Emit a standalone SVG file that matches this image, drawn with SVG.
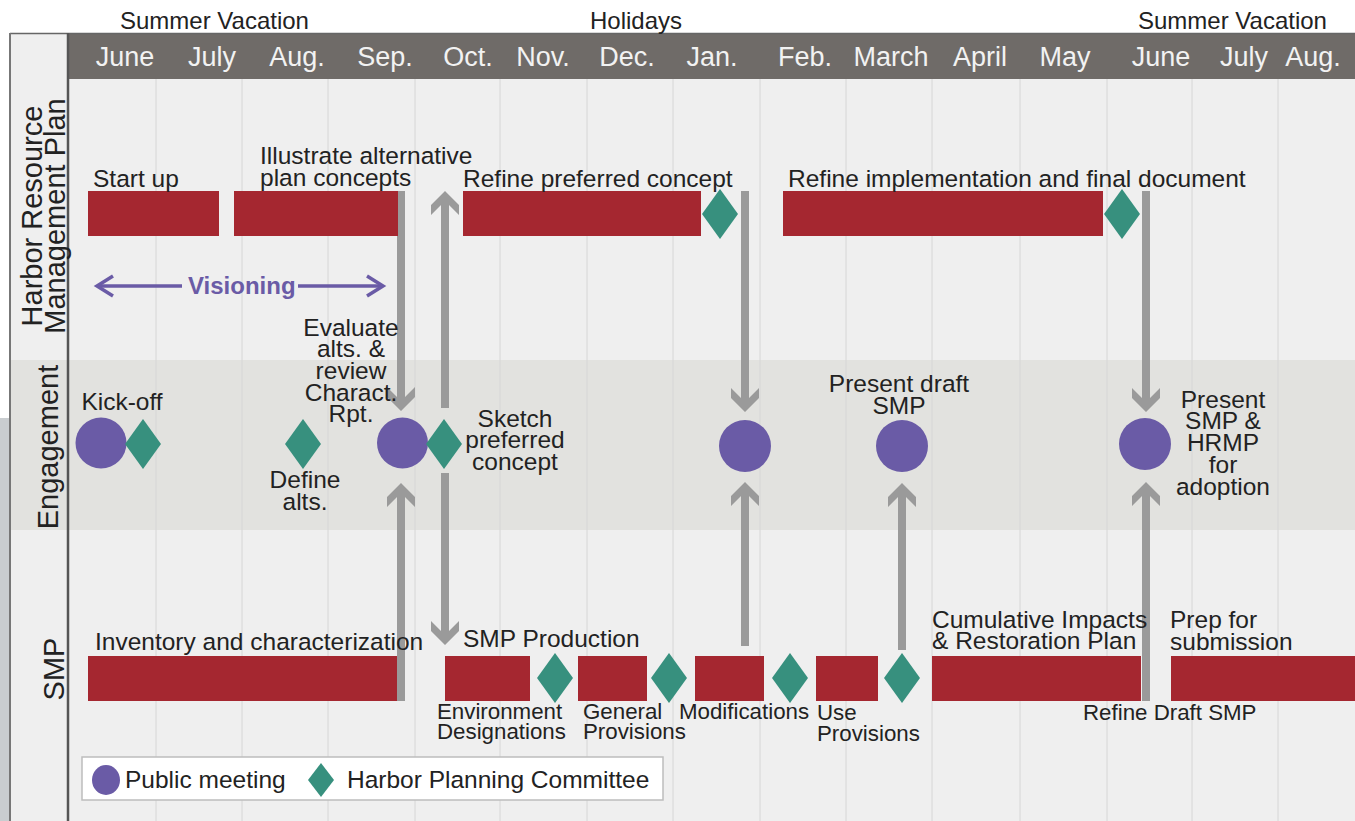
<svg xmlns="http://www.w3.org/2000/svg" xmlns:xlink="http://www.w3.org/1999/xlink" width="1355" height="821" viewBox="0 0 1355 821">
<style>
text{font-family:"Liberation Sans",Arial,sans-serif;fill:#222}
.t{font-size:24.5px}
.s{font-size:22.3px}
.c{font-size:24.5px;text-anchor:middle}
.m{font-size:27px;fill:#f2f2f2;text-anchor:middle}
.h{font-size:24px}
.r{font-size:29px;text-anchor:middle}
.bar{fill:#a52730}
.dia{fill:#37907e}
.pm{fill:#6a5ba6}
.sh{fill:#9a9a9a}
.grid{stroke:#d6d6d6;stroke-width:1}
.vis{stroke:#6a5ba6;stroke-width:3.5;fill:none}
</style>
<defs>
<path id="dia" d="M0,-25 L18,0 L0,25 L-18,0 Z"/>
<path id="ad" d="M-14,-24 L0,-10 L14,-24 L14,-14 L0,0 L-14,-14 Z"/>
<path id="au" d="M-14,24 L0,10 L14,24 L14,14 L0,0 L-14,14 Z"/>
</defs>
<rect x="0" y="0" width="1355" height="821" fill="#ffffff"/>
<g id="background">
<rect x="0" y="418" width="10" height="403" fill="#c9cdd0"/>
<rect x="10" y="79" width="1345" height="281" fill="#efefef"/>
<rect x="10" y="360" width="1345" height="170" fill="#e2e2df"/>
<rect x="10" y="530" width="1345" height="291" fill="#efefef"/>
<rect x="10" y="34" width="58" height="45" fill="#efefef"/>
<rect x="68" y="34" width="1287" height="45" fill="#6f6b68"/>
<g class="grid">
<line x1="156" y1="79" x2="156" y2="821"/><line x1="242" y1="79" x2="242" y2="821"/>
<line x1="328" y1="79" x2="328" y2="821"/><line x1="415" y1="79" x2="415" y2="821"/>
<line x1="500" y1="79" x2="500" y2="821"/><line x1="587" y1="79" x2="587" y2="821"/>
<line x1="673" y1="79" x2="673" y2="821"/><line x1="760" y1="79" x2="760" y2="821"/>
<line x1="846" y1="79" x2="846" y2="821"/><line x1="932" y1="79" x2="932" y2="821"/>
<line x1="1020" y1="79" x2="1020" y2="821"/><line x1="1107" y1="79" x2="1107" y2="821"/>
<line x1="1192" y1="79" x2="1192" y2="821"/><line x1="1278" y1="79" x2="1278" y2="821"/>
</g>
<line x1="10" y1="33.5" x2="1355" y2="33.5" stroke="#666" stroke-width="1.5"/>
<line x1="10" y1="33" x2="10" y2="821" stroke="#777" stroke-width="2"/>
<line x1="68" y1="33" x2="68" y2="821" stroke="#555" stroke-width="2.5"/>
</g>
<g id="header">
<text class="h" x="120" y="29">Summer Vacation</text>
<text class="h" x="590" y="29">Holidays</text>
<text class="h" x="1138" y="29">Summer Vacation</text>
<text class="m" x="125" y="66">June</text>
<text class="m" x="212" y="66">July</text>
<text class="m" x="297" y="66">Aug.</text>
<text class="m" x="385" y="66">Sep.</text>
<text class="m" x="468" y="66">Oct.</text>
<text class="m" x="543" y="66">Nov.</text>
<text class="m" x="627" y="66">Dec.</text>
<text class="m" x="712" y="66">Jan.</text>
<text class="m" x="805" y="66">Feb.</text>
<text class="m" x="891" y="66">March</text>
<text class="m" x="980" y="66">April</text>
<text class="m" x="1065" y="66">May</text>
<text class="m" x="1161" y="66">June</text>
<text class="m" x="1244" y="66">July</text>
<text class="m" x="1313" y="66">Aug.</text>
</g>
<g id="row-labels">
<text class="r" transform="translate(42,216) rotate(-90)">Harbor Resource</text>
<text class="r" transform="translate(65,216) rotate(-90)">Management Plan</text>
<text class="r" transform="translate(58,447) rotate(-90)">Engagement</text>
<text class="r" transform="translate(64,669) rotate(-90)">SMP</text>
</g>
<g id="connectors">
<rect class="sh" x="397" y="191" width="8" height="211"/>
<use xlink:href="#ad" class="sh" x="401" y="411"/>
<rect class="sh" x="441" y="201" width="8" height="207"/>
<use xlink:href="#au" class="sh" x="445" y="191"/>
<rect class="sh" x="441" y="473" width="8" height="163"/>
<use xlink:href="#ad" class="sh" x="445" y="645"/>
<rect class="sh" x="397" y="492" width="8" height="209"/>
<use xlink:href="#au" class="sh" x="401" y="483"/>
<rect class="sh" x="741" y="191" width="8" height="211"/>
<use xlink:href="#ad" class="sh" x="745" y="412"/>
<rect class="sh" x="741" y="491" width="8" height="155"/>
<use xlink:href="#au" class="sh" x="745" y="482"/>
<rect class="sh" x="898" y="492" width="8" height="158"/>
<use xlink:href="#au" class="sh" x="902" y="483"/>
<rect class="sh" x="1142" y="191" width="8" height="211"/>
<use xlink:href="#ad" class="sh" x="1146" y="412"/>
<rect class="sh" x="1142" y="491" width="8" height="210"/>
<use xlink:href="#au" class="sh" x="1146" y="482"/>
</g>
<g id="hrmp">
<g id="start-up"><rect class="bar" x="88" y="191" width="131" height="45"/><text class="t" x="93" y="187">Start up</text></g>
<g id="illustrate"><rect class="bar" x="234" y="191" width="164" height="45"/><text class="t" x="260" y="164">Illustrate alternative</text><text class="t" x="260" y="186">plan concepts</text></g>
<g id="refine-preferred"><rect class="bar" x="463" y="191" width="238" height="45"/><use xlink:href="#dia" class="dia" x="720" y="214"/><text class="t" x="463" y="187">Refine preferred concept</text></g>
<g id="refine-implementation"><rect class="bar" x="783" y="191" width="320" height="45"/><use xlink:href="#dia" class="dia" x="1122" y="214"/><text class="t" x="788" y="187">Refine implementation and final document</text></g>
<g id="visioning">
<line class="vis" x1="97" y1="286" x2="182" y2="286"/>
<line class="vis" x1="298" y1="286" x2="383" y2="286"/>
<path class="vis" d="M113,276 L97,286 L113,296"/>
<path class="vis" d="M367,276 L383,286 L367,296"/>
<text x="188" y="294" style="font-size:24px;font-weight:bold;fill:#6a5ba6">Visioning</text>
</g>
</g>
<g id="engagement">
<g id="kickoff"><circle class="pm" cx="101" cy="443" r="25.5"/><use xlink:href="#dia" class="dia" x="143" y="444"/><text class="c" x="122" y="410">Kick-off</text></g>
<g id="define-alts"><use xlink:href="#dia" class="dia" x="303" y="444"/><text class="c" x="305" y="488">Define</text><text class="c" x="305" y="510">alts.</text></g>
<g id="evaluate"><text class="c" x="351" y="336">Evaluate</text><text class="c" x="351" y="357">alts. &amp;</text><text class="c" x="351" y="379">review</text><text class="c" x="351" y="401">Charact.</text><text class="c" x="351" y="422">Rpt.</text><circle class="pm" cx="402.5" cy="443" r="25.5"/></g>
<g id="sketch"><use xlink:href="#dia" class="dia" x="444" y="444"/><text class="c" x="515" y="427">Sketch</text><text class="c" x="515" y="448">preferred</text><text class="c" x="515" y="470">concept</text></g>
<g id="meeting-jan"><circle class="pm" cx="745" cy="446" r="26"/></g>
<g id="present-draft"><circle class="pm" cx="902" cy="446" r="26"/><text class="c" x="899" y="392">Present draft</text><text class="c" x="899" y="414">SMP</text></g>
<g id="present-adoption"><circle class="pm" cx="1145" cy="444" r="26"/><text class="c" x="1223" y="408">Present</text><text class="c" x="1223" y="429">SMP &amp;</text><text class="c" x="1223" y="451">HRMP</text><text class="c" x="1223" y="473">for</text><text class="c" x="1223" y="495">adoption</text></g>
</g>
<g id="smp">
<g id="inventory"><rect class="bar" x="88" y="656" width="309" height="45"/><text class="t" x="95" y="650">Inventory and characterization</text></g>
<text class="t" x="463" y="647">SMP Production</text>
<g id="env"><rect class="bar" x="445" y="656" width="85" height="45"/><use xlink:href="#dia" class="dia" x="555" y="678"/><text class="s" x="437" y="719">Environment</text><text class="s" x="437" y="739">Designations</text></g>
<g id="general"><rect class="bar" x="578" y="656" width="69" height="45"/><use xlink:href="#dia" class="dia" x="669" y="678"/><text class="s" x="583" y="719">General</text><text class="s" x="583" y="739">Provisions</text></g>
<g id="modifications"><rect class="bar" x="695" y="656" width="69" height="45"/><use xlink:href="#dia" class="dia" x="790" y="678"/><text class="s" x="679" y="719">Modifications</text></g>
<g id="use"><rect class="bar" x="816" y="656" width="62" height="45"/><use xlink:href="#dia" class="dia" x="902" y="678"/><text class="s" x="817" y="720">Use</text><text class="s" x="817" y="741">Provisions</text></g>
<g id="cumulative"><rect class="bar" x="932" y="656" width="209" height="45"/><text class="t" x="932" y="628">Cumulative Impacts</text><text class="t" x="932" y="649">&amp; Restoration Plan</text></g>
<text class="s" x="1083" y="720">Refine Draft SMP</text>
<g id="prep"><rect class="bar" x="1171" y="656" width="184" height="45"/><text class="t" x="1170" y="628">Prep for</text><text class="t" x="1170" y="650">submission</text></g>
</g>
<g id="legend">
<rect x="82" y="757" width="581" height="43" fill="#ffffff" stroke="#bdbdbd" stroke-width="1.5"/>
<ellipse class="pm" cx="106" cy="780" rx="14" ry="15"/>
<text class="t" x="125" y="788">Public meeting</text>
<path class="dia" d="M321,763 L334,780 L321,797 L308,780 Z"/>
<text class="t" x="347" y="788">Harbor Planning Committee</text>
</g>
</svg>
